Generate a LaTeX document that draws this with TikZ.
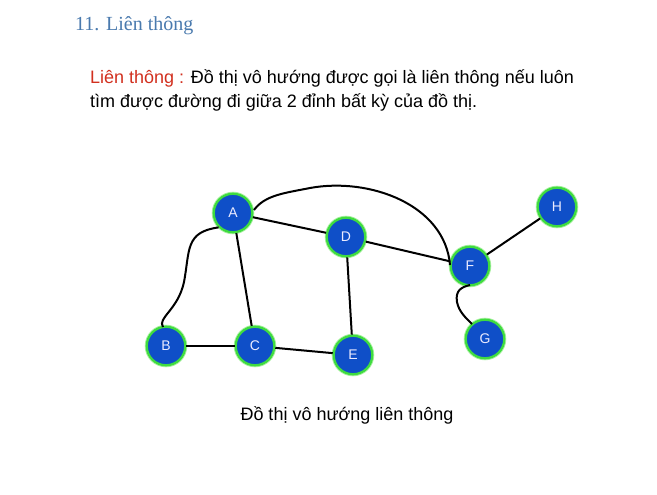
\documentclass[tikz,border=0pt]{standalone}
\usepackage{fontspec}
\setmainfont{Liberation Sans}
\newfontfamily\titlefont{Liberation Serif}
\definecolor{titleblue}{HTML}{4A7AAE}
\definecolor{defred}{HTML}{D2301F}
\definecolor{nodeblue}{HTML}{0F4FC8}
\definecolor{glow}{HTML}{3FDC3F}
\definecolor{glowout}{HTML}{A8F0A0}
\begin{document}
\begin{tikzpicture}[x=1pt,y=-1pt,
  vert/.style={circle,fill=nodeblue,draw=glow,line width=2.2pt,minimum size=38.5pt,inner sep=0pt,
    text=white!92!blue,font=\fontsize{14}{14}\selectfont,
    preaction={draw=glowout,line width=4pt}},
  edge/.style={line width=2pt,black}]
\useasboundingbox (0,0) rectangle (657,495);
\fill[white] (0,0) rectangle (657,495);
\node[anchor=base west,text=titleblue,font=\titlefont\fontsize{20}{20}\selectfont,inner sep=0pt] (title) at (75,31) {11. Liên thông};
\node[anchor=base west,inner sep=0pt,font=\fontsize{18}{20}\selectfont] (def1) at (90,84) {\textcolor{defred}{Liên thông :} Đồ thị vô hướng được gọi là liên thông nếu luôn};
\node[anchor=base west,inner sep=0pt,font=\fontsize{18}{20}\selectfont] (def2) at (90,107) {tìm được đường đi giữa 2 đỉnh bất kỳ của đồ thị.};
\node[anchor=base,inner sep=0pt,font=\fontsize{18}{20}\selectfont] (cap) at (347,420) {Đồ thị vô hướng liên thông};

\node[vert] (A) at (233,213) {A};
\node[vert] (B) at (166,346) {B};
\node[vert] (C) at (255,346) {C};
\node[vert] (D) at (346,237) {D};
\node[vert] (E) at (353,355) {E};
\node[vert] (F) at (470,266) {F};
\node[vert] (G) at (485,339) {G};
\node[vert] (H) at (557,207) {H};

\draw[edge] (A.south west) .. controls (185,232) and (190,250) .. (184,282) .. controls (178,310) and (157,318) .. (163,327);
\draw[edge] (A) -- (C);
\draw[edge] (A) -- (D);
\draw[edge] (D) -- (F);
\draw[edge] (D) -- (E);
\draw[edge] (B) -- (C);
\draw[edge] (C) -- (E);
\draw[edge] (F) -- (H);
\draw[edge] (254,210) .. controls (265,195) and (285,193) .. (310,188) .. controls (370,177) and (445,205) .. (450,265);
\draw[edge] (470,285) .. controls (462,287) and (455,290) .. (457,302) .. controls (459,312) and (466,318) .. (472,324);
\end{tikzpicture}
\end{document}
